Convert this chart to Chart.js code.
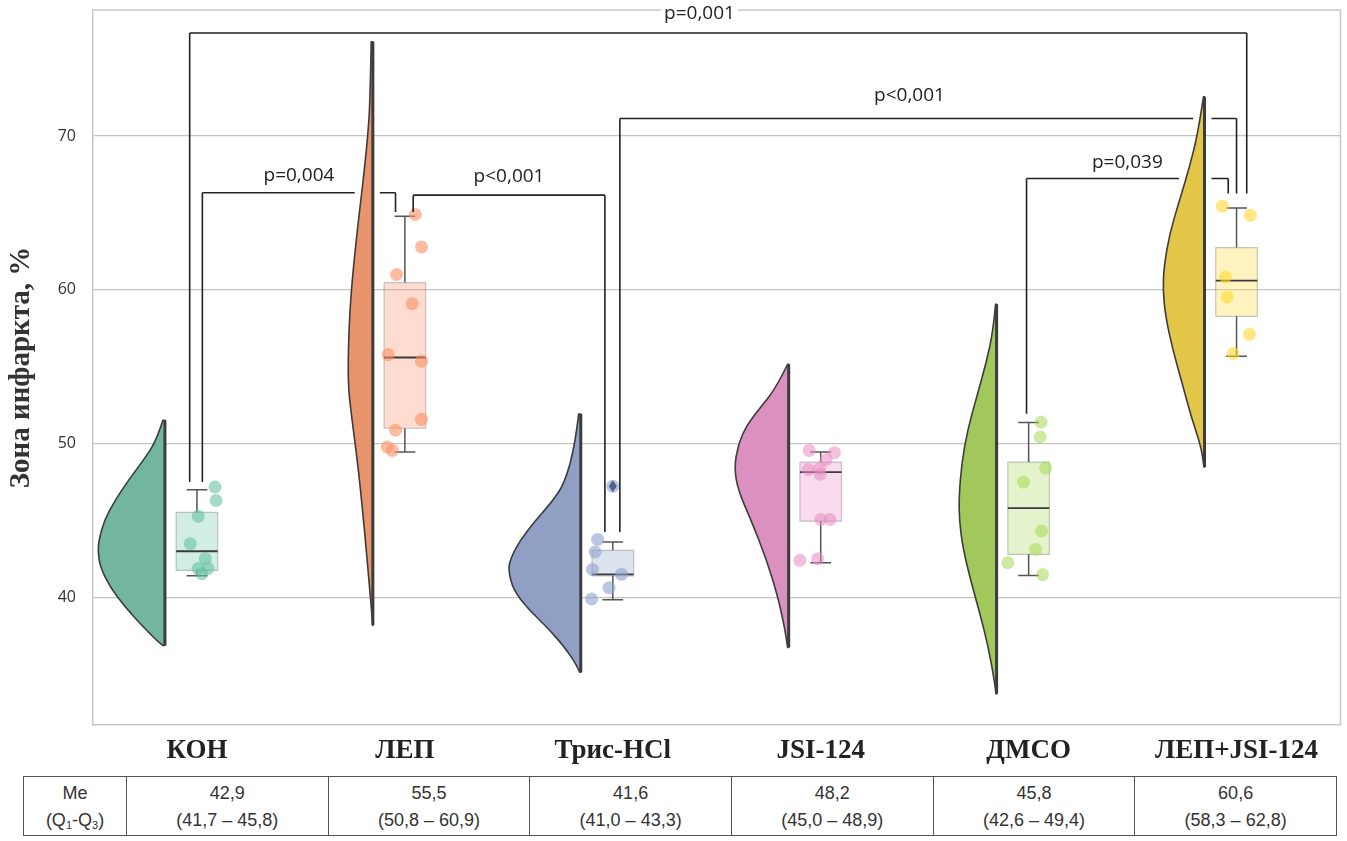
<!DOCTYPE html>
<html>
<head>
<meta charset="utf-8">
<script src="https://cdn.jsdelivr.net/npm/chart.js@4.4.1/dist/chart.umd.min.js"></script>
<style>
  body { margin: 0; background: #fff; width: 1347px; height: 841px; overflow: hidden; position: relative; }
  #wrap { position: absolute; left: 0; top: 0; width: 1347px; height: 772px; }
  #tab { position: absolute; left: 23px; top: 776px; width: 1314px; border-collapse: collapse;
         font-family: "Liberation Sans Narrow", "Liberation Sans", sans-serif; font-size: 18px; color: #333; }
  #tab td { border: 1.5px solid #555; text-align: center; line-height: 27px; padding: 3px 0 1px 0; }
  #tab sub { font-size: 11px; line-height: 0; vertical-align: -3px; }
</style>
</head>
<body>
<div id="wrap"><canvas id="grafico"></canvas></div>
<table id="tab"><tr id="riga"></tr></table>
<script>
// categories and axis
const CATEGORIES = ["КОН", "ЛЕП", "Трис-HCl", "JSI-124", "ДМСО", "ЛЕП+JSI-124"];
const Y_TICKS = [40, 50, 60, 70];

// box plot as drawn (median, quartiles, whiskers)
const BOX_MED = [43.0, 55.6, 41.5, 48.15, 45.8, 60.6];
const BOX_Q1 = [41.76, 51.0, 41.4, 44.96, 42.8, 58.28];
const BOX_Q3 = [45.53, 60.47, 43.06, 48.8, 48.8, 62.75];
const WHISK_LO = [41.4, 49.45, 39.85, 42.26, 41.43, 55.68];
const WHISK_HI = [47.0, 64.79, 43.6, 49.45, 51.37, 65.33];
const OUTLIERS = [[], [], [47.22], [], [], []];

// raw points and their jitter (category units)
const POINTS = [
  [47.18, 46.3, 45.27, 43.49, 42.52, 41.87, 41.87, 41.54],
  [64.9, 62.79, 61.0, 59.1, 55.79, 55.36, 51.58, 50.87, 49.78, 49.56],
  [47.22, 43.77, 42.95, 41.82, 41.5, 40.63, 39.9],
  [49.56, 49.41, 48.96, 48.31, 48.37, 48.0, 45.07, 45.07, 42.41, 42.52],
  [51.4, 50.43, 48.41, 47.5, 44.31, 43.12, 42.26, 41.48],
  [65.44, 64.85, 60.84, 59.54, 57.11, 55.86]
];
const JITTER = [
  [0.087, 0.092, 0.006, -0.032, 0.04, 0.006, 0.053, 0.024],
  [0.05, 0.08, -0.04, 0.035, -0.08, 0.08, 0.08, -0.045, -0.085, -0.06],
  [0.0, -0.073, -0.085, -0.098, 0.042, -0.018, -0.102],
  [-0.055, 0.066, 0.026, -0.06, -0.006, -0.003, 0.0, 0.045, -0.1, -0.015],
  [0.06, 0.055, 0.082, -0.025, 0.062, 0.034, -0.1, 0.067],
  [-0.068, 0.067, -0.053, -0.045, 0.062, -0.016]
];

// half violin outlines: value levels and density width (category units)
const VIOLIN_Y = [
  [51.52, 50.21, 48.91, 47.61, 46.31, 45.01, 43.71, 42.95, 41.97, 40.67, 39.37, 38.07, 37.2, 36.88],
  [76.14, 72.35, 70.03, 66.92, 63.66, 59.97, 57.16, 53.9, 51.95, 49.78, 47.61, 44.36, 41.11, 38.94, 38.18],
  [51.93, 49.94, 47.44, 46.2, 44.96, 43.72, 42.47, 41.72, 40.47, 39.23, 37.99, 36.74, 35.75, 35.13],
  [55.16, 53.67, 52.43, 51.18, 49.94, 48.44, 46.95, 44.96, 42.47, 39.98, 37.99, 36.75],
  [59.06, 57.37, 55.2, 53.03, 50.87, 48.7, 46.53, 45.01, 43.27, 41.11, 38.94, 36.77, 34.6, 33.73],
  [72.55, 70.17, 68.0, 65.83, 63.66, 61.49, 59.97, 58.24, 56.07, 53.9, 51.73, 49.78, 48.48]
];
const VIOLIN_W = [
  [0.01, 0.04, 0.104, 0.176, 0.24, 0.292, 0.318, 0.322, 0.311, 0.264, 0.192, 0.104, 0.04, 0.01],
  [0.008, 0.013, 0.024, 0.048, 0.077, 0.104, 0.116, 0.12, 0.104, 0.083, 0.064, 0.04, 0.019, 0.005, 0.0],
  [0.01, 0.027, 0.077, 0.139, 0.22, 0.292, 0.34, 0.348, 0.324, 0.252, 0.157, 0.077, 0.027, 0.005],
  [0.005, 0.059, 0.131, 0.203, 0.243, 0.262, 0.243, 0.179, 0.107, 0.051, 0.019, 0.005],
  [0.005, 0.016, 0.051, 0.096, 0.14, 0.168, 0.181, 0.179, 0.163, 0.125, 0.08, 0.04, 0.011, 0.003],
  [0.005, 0.032, 0.072, 0.12, 0.168, 0.195, 0.2, 0.187, 0.152, 0.107, 0.064, 0.016, 0.003]
];

// significance brackets
const BR_FROM = [0, 0, 1, 2, 4];
const BR_TO = [5, 1, 2, 5, 5];
const BR_LEVEL = [76.7, 66.31, 66.16, 71.14, 67.24];
const BR_END_L = [47.5, 47.5, 65.07, 44.25, 51.95];
const BR_END_R = [66.27, 65.07, 44.25, 66.27, 66.27];
const BR_TEXT = ["p=0,001", "p=0,004", "p<0,001", "p<0,001", "p=0,039"];

// table under the chart
const TAB_ME = ["42,9", "55,5", "41,6", "48,2", "45,8", "60,6"];
const TAB_IQR = ["(41,7 – 45,8)", "(50,8 – 60,9)", "(41,0 – 43,3)", "(45,0 – 48,9)", "(42,6 – 49,4)", "(58,3 – 62,8)"];

// styles
const VIOLIN_COLORS = ["#72b5a0", "#e8956e", "#909fc4", "#dc90bf", "#a2c85b", "#e3c548"];
const POINT_COLORS = ["rgba(102,194,165,0.6)", "rgba(252,141,98,0.6)", "rgba(141,160,203,0.6)",
                      "rgba(231,138,195,0.55)", "rgba(166,216,84,0.55)", "rgba(255,217,47,0.6)"];
const BOX_COLORS = ["rgba(102,194,165,0.3)", "rgba(252,141,98,0.3)", "rgba(141,160,203,0.3)",
                    "rgba(231,138,195,0.3)", "rgba(166,216,84,0.3)", "rgba(255,217,47,0.3)"];
const VIOLIN_OFF = 0.154;   // flat side of violin, left of category centre
const BOX_HALF = 0.1;
const CAP_HALF = 0.05;
const BR_LEG_L = [-0.035, 0.026, 0.04, 0.034, -0.01];
const BR_LEG_R = [0.049, -0.045, -0.038, 0.0, -0.04];
const BR_TEXT_SHIFT = [-0.09, 0, 0, -0.09, 0];
const BR_TEXT_UP = [19, 17, 19, 23, 16];

// table
const riga = document.getElementById("riga");
const first = document.createElement("td");
first.style.width = "102px";
first.innerHTML = "Me<br>(Q<sub>1</sub>-Q<sub>3</sub>)";
riga.appendChild(first);
for (let i = 0; i < TAB_ME.length; i++) {
  const cella = document.createElement("td");
  cella.innerHTML = TAB_ME[i] + "<br>" + TAB_IQR[i];
  riga.appendChild(cella);
}

function halfWidth(g, v) {
  const ys = VIOLIN_Y[g], ws = VIOLIN_W[g];
  if (v > ys[0] || v < ys[ys.length - 1]) return 0;
  for (let i = 0; i < ys.length - 1; i++) {
    if (v <= ys[i] && v >= ys[i + 1]) {
      const t = (ys[i] - v) / (ys[i] - ys[i + 1]);
      return ws[i] + t * (ws[i + 1] - ws[i]);
    }
  }
  return 0;
}

const raincloud = {
  id: "raincloud",
  beforeDatasetsDraw(chart) {
    const { ctx, chartArea, scales: { x, y } } = chart;
    ctx.save();
    // frame top and right
    ctx.strokeStyle = "#c8c8c8";
    ctx.lineWidth = 1.5;
    ctx.beginPath();
    ctx.moveTo(chartArea.left, chartArea.top);
    ctx.lineTo(chartArea.right, chartArea.top);
    ctx.lineTo(chartArea.right, chartArea.bottom);
    ctx.stroke();

    // half violins
    for (let g = 0; g < CATEGORIES.length; g++) {
      const edge = g - VIOLIN_OFF;
      const pts = VIOLIN_Y[g].map((v, i) => [x.getPixelForValue(edge - VIOLIN_W[g][i]), y.getPixelForValue(v)]);
      const ex = x.getPixelForValue(edge);
      ctx.beginPath();
      ctx.moveTo(ex, pts[0][1]);
      ctx.lineTo(pts[0][0], pts[0][1]);
      for (let i = 1; i < pts.length - 1; i++) {
        const mx = (pts[i][0] + pts[i + 1][0]) / 2, my = (pts[i][1] + pts[i + 1][1]) / 2;
        ctx.quadraticCurveTo(pts[i][0], pts[i][1], mx, my);
      }
      ctx.lineTo(pts[pts.length - 1][0], pts[pts.length - 1][1]);
      ctx.lineTo(ex, pts[pts.length - 1][1]);
      ctx.closePath();
      ctx.fillStyle = VIOLIN_COLORS[g];
      ctx.fill();
      ctx.strokeStyle = "#3c3c3c";
      ctx.lineWidth = 1.6;
      ctx.lineJoin = "round";
      ctx.stroke();
      ctx.lineWidth = 3;
      ctx.beginPath();
      ctx.moveTo(ex, pts[0][1]);
      ctx.lineTo(ex, pts[pts.length - 1][1]);
      ctx.stroke();
    }

    // boxes
    for (let g = 0; g < CATEGORIES.length; g++) {
      const xl = x.getPixelForValue(g - BOX_HALF), xr = x.getPixelForValue(g + BOX_HALF);
      const xc = x.getPixelForValue(g);
      const cl = x.getPixelForValue(g - CAP_HALF), cr = x.getPixelForValue(g + CAP_HALF);
      const yq1 = y.getPixelForValue(BOX_Q1[g]), yq3 = y.getPixelForValue(BOX_Q3[g]);
      ctx.fillStyle = BOX_COLORS[g];
      ctx.fillRect(xl, yq3, xr - xl, yq1 - yq3);
      ctx.strokeStyle = "rgba(130,130,130,0.45)";
      ctx.lineWidth = 1.2;
      ctx.strokeRect(xl, yq3, xr - xl, yq1 - yq3);
      ctx.strokeStyle = "#555";
      ctx.lineWidth = 1.5;
      ctx.beginPath();
      ctx.moveTo(xc, yq3); ctx.lineTo(xc, y.getPixelForValue(WHISK_HI[g]));
      ctx.moveTo(xc, yq1); ctx.lineTo(xc, y.getPixelForValue(WHISK_LO[g]));
      ctx.moveTo(cl, y.getPixelForValue(WHISK_HI[g])); ctx.lineTo(cr, y.getPixelForValue(WHISK_HI[g]));
      ctx.moveTo(cl, y.getPixelForValue(WHISK_LO[g])); ctx.lineTo(cr, y.getPixelForValue(WHISK_LO[g]));
      ctx.stroke();
      ctx.strokeStyle = "#3a3a3a";
      ctx.lineWidth = 1.8;
      ctx.beginPath();
      ctx.moveTo(xl, y.getPixelForValue(BOX_MED[g])); ctx.lineTo(xr, y.getPixelForValue(BOX_MED[g]));
      ctx.stroke();
    }
    ctx.restore();
  },
  afterDatasetsDraw(chart) {
    const { ctx, scales: { x, y } } = chart;
    ctx.save();
    // outliers
    ctx.fillStyle = "#52628f";
    for (let g = 0; g < OUTLIERS.length; g++) {
      OUTLIERS[g].forEach(v => {
        const px = x.getPixelForValue(g), py = y.getPixelForValue(v);
        ctx.beginPath();
        ctx.moveTo(px, py - 6); ctx.lineTo(px + 4, py); ctx.lineTo(px, py + 6); ctx.lineTo(px - 4, py);
        ctx.closePath();
        ctx.fill();
      });
    }
    // brackets
    ctx.strokeStyle = "#222";
    ctx.lineWidth = 1.6;
    for (let b = 0; b < BR_TEXT.length; b++) {
      const xL = x.getPixelForValue(BR_FROM[b] + BR_LEG_L[b]);
      const xR = x.getPixelForValue(BR_TO[b] + BR_LEG_R[b]);
      const yy = y.getPixelForValue(BR_LEVEL[b]);
      ctx.beginPath();
      ctx.moveTo(xL, y.getPixelForValue(BR_END_L[b])); ctx.lineTo(xL, yy);
      ctx.moveTo(xR, y.getPixelForValue(BR_END_R[b])); ctx.lineTo(xR, yy);
      // horizontal with gaps where a violin is crossed
      const gaps = [];
      for (let g = 0; g < CATEGORIES.length; g++) {
        const w = halfWidth(g, BR_LEVEL[b]);
        if (w > 0) {
          const g0 = x.getPixelForValue(g - VIOLIN_OFF - w) - 7, g1 = x.getPixelForValue(g - VIOLIN_OFF) + 7;
          if (g1 > xL && g0 < xR) gaps.push([g0, g1]);
        }
      }
      let cur = xL;
      gaps.forEach(gp => { ctx.moveTo(cur, yy); ctx.lineTo(gp[0], yy); cur = gp[1]; });
      ctx.moveTo(cur, yy); ctx.lineTo(xR, yy);
      ctx.stroke();

      const tx = x.getPixelForValue((BR_FROM[b] + BR_LEG_L[b] + BR_TO[b] + BR_LEG_R[b]) / 2 + BR_TEXT_SHIFT[b]);
      const ty = yy - BR_TEXT_UP[b];
      ctx.font = "19px 'Open Sans', sans-serif";
      const tw = ctx.measureText(BR_TEXT[b]).width;
      ctx.fillStyle = "#fff";
      ctx.fillRect(tx - tw / 2 - 3, ty - 11, tw + 6, 22);
      ctx.fillStyle = "#222";
      ctx.textAlign = "center";
      ctx.textBaseline = "middle";
      ctx.fillText(BR_TEXT[b], tx, ty);
    }
    ctx.restore();
  }
};

const datasets = CATEGORIES.map((c, g) => ({
  label: c,
  data: POINTS[g].map((v, i) => ({ x: g + JITTER[g][i], y: v })),
  backgroundColor: POINT_COLORS[g],
  borderWidth: 0,
  pointRadius: 6.5
}));

let grafico = new Chart("grafico", {
  type: "scatter",
  data: { datasets: datasets },
  plugins: [raincloud],
  options: {
    responsive: true,
    maintainAspectRatio: false,
    animation: false,
    layout: { padding: { top: 10, right: 2, left: 0, bottom: 0 } },
    plugins: { legend: { display: false }, tooltip: { enabled: false } },
    scales: {
      x: {
        type: "linear",
        min: -0.5,
        max: 5.5,
        afterBuildTicks: ax => { ax.ticks = CATEGORIES.map((c, i) => ({ value: i })); },
        afterFit: sc => { sc.height = 47; sc.paddingLeft = 0; sc.paddingRight = 0; },
        ticks: {
          callback: (v, i) => CATEGORIES[i],
          font: { family: "'Liberation Serif', serif", size: 27, weight: "bold" },
          color: "#222",
          padding: 10,
          maxRotation: 0
        },
        grid: { display: false, drawTicks: false },
        border: { display: true, color: "#c8c8c8", width: 1.5 }
      },
      y: {
        min: 31.7,
        max: 78.2,
        afterBuildTicks: ax => { ax.ticks = Y_TICKS.map(v => ({ value: v })); },
        afterFit: sc => { sc.width = 93; sc.paddingTop = 0; sc.paddingBottom = 0; },
        ticks: {
          font: { family: "'Open Sans', sans-serif", size: 16 },
          color: "#333",
          padding: 17
        },
        grid: { color: "#c4c4c4", lineWidth: 1.3, drawTicks: false },
        border: { display: true, color: "#c8c8c8", width: 1.5 },
        title: {
          display: true,
          text: "Зона инфаркта, %",
          font: { family: "'Liberation Serif', serif", size: 29, weight: "bold" },
          color: "#333",
          padding: { top: 4, bottom: 0 }
        }
      }
    }
  }
});
</script>
</body>
</html>
